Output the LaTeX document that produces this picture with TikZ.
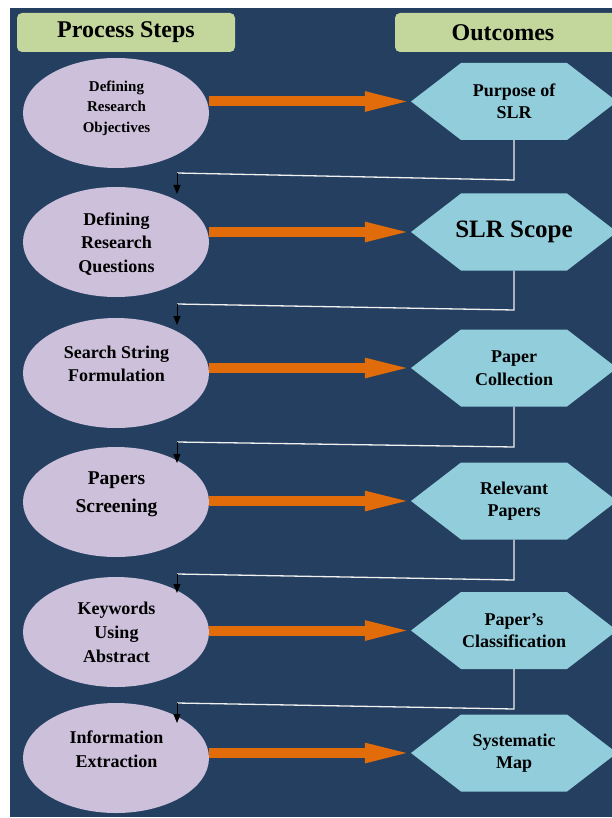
\documentclass[tikz,border=0pt]{standalone}
\usepackage{fontspec}
\setmainfont{Liberation Serif}
\usetikzlibrary{arrows.meta,shapes.geometric}
\definecolor{bgnavy}{RGB}{36,63,96}
\definecolor{hdrgreen}{RGB}{195,214,155}
\definecolor{ellfill}{RGB}{204,192,218}
\definecolor{hexfill}{RGB}{146,205,220}
\definecolor{arrorange}{RGB}{227,108,10}
\begin{document}
\begin{tikzpicture}[x=1pt,y=-1pt,
  hdr/.style={fill=hdrgreen, rounded corners=5pt, inner sep=0pt, font=\bfseries\fontsize{24}{28}\selectfont},
  stepell/.style={ellipse, fill=ellfill, minimum width=186pt, minimum height=110pt, inner sep=0pt},
  steptxt/.style={align=center, inner sep=0pt, font=\bfseries\fontsize{18}{23.5}\selectfont},
  outhex/.style={minimum width=206pt, minimum height=77pt, inner sep=0pt, align=center,
    font=\bfseries\fontsize{18}{22.5}\selectfont,
    path picture={\fill[hexfill] (path picture bounding box.west)
      -- ([xshift=50pt]path picture bounding box.north west)
      -- ([xshift=-50pt]path picture bounding box.north east)
      -- (path picture bounding box.east)
      -- ([xshift=-50pt]path picture bounding box.south east)
      -- ([xshift=50pt]path picture bounding box.south west) -- cycle;}},
  flow/.style={draw=arrorange, line width=10pt, -{Triangle[length=52pt,width=17pt]}},
  link/.style={draw=white!88!gray, line width=1.3pt},
  drop/.style={draw=black, line width=1pt, -{Triangle[length=9pt,width=7pt]}}
]
\useasboundingbox (0,0) rectangle (612,818);
\fill[bgnavy] (10,8) rectangle (612,817);

% headers
\node[hdr, minimum width=218pt, minimum height=39pt] (hs) at (126,32.5) {Process Steps};
\node[hdr, minimum width=223pt, minimum height=39pt] (ho) at (506.5,32.5) {\hspace*{-7pt}Outcomes};

% process steps
\node[stepell] (e1) at (116,113) {};
\node[stepell] (e2) at (116,242) {};
\node[stepell] (e3) at (116,373) {};
\node[stepell] (e4) at (116,502) {};
\node[stepell] (e5) at (116,632) {};
\node[stepell] (e6) at (116,758) {};

\node[steptxt, font=\bfseries\fontsize{15}{20.5}\selectfont] (t1) at (116.5,108) {Defining\\Research\\Objectives};
\node[steptxt] (t2) at (116.5,244) {Defining\\Research\\Questions};
\node[steptxt] (t3) at (116.5,364) {Search String\\Formulation};
\node[steptxt, font=\bfseries\fontsize{19.5}{28}\selectfont] (t4) at (116.5,494) {Papers\\Screening};
\node[steptxt, font=\bfseries\fontsize{18}{24}\selectfont] (t5) at (116.5,632) {Keywords\\Using\\Abstract};
\node[steptxt] (t6) at (116.5,749) {Information\\Extraction};

% outcomes
\node[outhex] (h1) at (514,101.5) {Purpose of\\SLR};
\node[outhex, font=\bfseries\fontsize{25}{30}\selectfont] (h2) at (514,232) {\raisebox{6pt}{SLR Scope}};
\node[outhex] (h3) at (514,368) {Paper\\Collection};
\node[outhex] (h4) at (514,501) {Relevant\\Papers};
\node[outhex] (h5) at (514,630.5) {Paper’s\\Classification};
\node[outhex] (h6) at (514,753) {Systematic\\Map};

% orange arrows
\foreach \i in {1,...,6} {
  \draw[flow] (e\i.east |- h\i.west) -- ([xshift=6pt]h\i.west);
}

% connectors
\coordinate (k1) at (514,180); \coordinate (l1) at (177,173); \coordinate (m1) at (177,194);
\coordinate (k2) at (514,310); \coordinate (l2) at (177,304); \coordinate (m2) at (177,325);
\coordinate (k3) at (514,447); \coordinate (l3) at (177,442); \coordinate (m3) at (177,463);
\coordinate (k4) at (514,580); \coordinate (l4) at (177,574); \coordinate (m4) at (177,593);
\coordinate (k5) at (514,709); \coordinate (l5) at (177,703); \coordinate (m5) at (177,723);
\foreach \i in {1,...,5} {
  \draw[link] (h\i.south) -- (k\i) -- (l\i);
  \draw[drop] (l\i) -- (m\i);
}
\end{tikzpicture}
\end{document}
